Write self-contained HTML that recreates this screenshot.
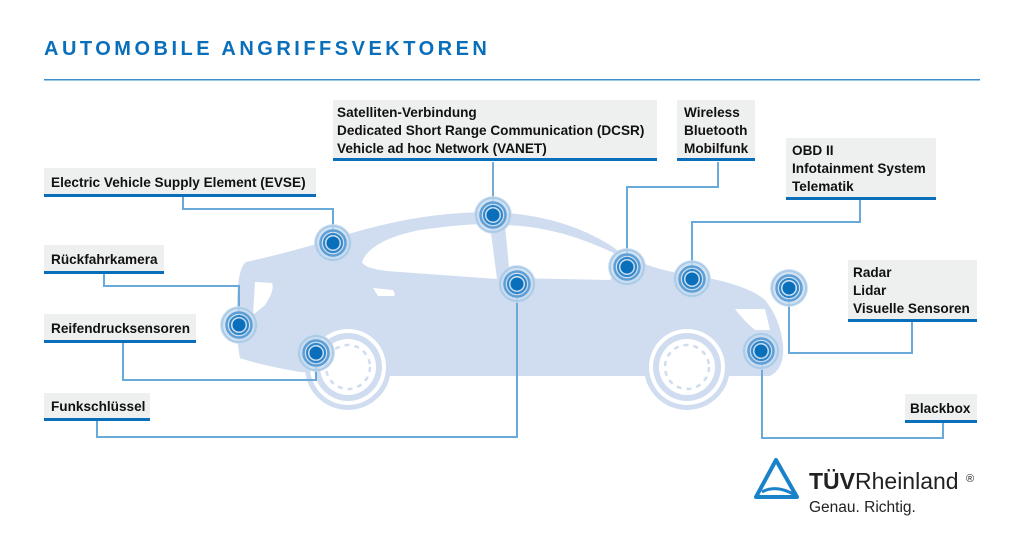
<!DOCTYPE html>
<html><head><meta charset="utf-8"><style>
html,body{margin:0;padding:0;background:#fff;}
svg{display:block;font-family:"Liberation Sans",Arial,sans-serif;}
.lb{font-weight:bold;font-size:13.6px;fill:#111;}
.box{fill:#eef0f0;}
.ul{fill:#0a6fba;}
.cn{fill:none;stroke:#6aaad8;stroke-width:2;}
.cn2{fill:none;stroke:#2a7fc0;stroke-width:1.3;}
</style></head><body>
<svg width="1024" height="555" viewBox="0 0 1024 555">
<defs>
<g id="t">
<circle r="19" fill="#c9dcef" opacity="0.8"/>
<circle r="17" fill="none" stroke="#a9cbe8" stroke-width="2"/>
<circle r="12.5" fill="none" stroke="#5d9fd6" stroke-width="2.5"/>
<circle r="9" fill="none" stroke="#2f86c8" stroke-width="2"/>
<circle r="6.5" fill="#0a6fba"/>
</g>
</defs>
<text x="44" y="55" font-size="20" font-weight="bold" fill="#0a6fba" letter-spacing="3.5">AUTOMOBILE ANGRIFFSVEKTOREN</text>
<rect x="44" y="79" width="936" height="1.5" fill="#3d8fcc"/>

<!-- car -->
<g fill="#d0ddf0">
<path d="M246 262 Q300 250 345 235 Q420 212 490 212 Q560 214 610 245 Q640 268 690 275 Q745 283 765 300 Q780 318 783 345 Q785 368 770 376 L600 376 L420 376 Q360 376 345 374 L300 372 Q260 365 240 358 Q236 340 237 300 Q238 268 246 262 Z"/>
<circle cx="348" cy="367" r="43"/>
<circle cx="687" cy="367" r="43"/>
</g>
<path d="M362 262 Q370 240 420 230 Q480 222 490 225 L497 279 L400 272 Q365 270 362 262 Z" fill="#fff"/>
<path d="M505 225 Q560 226 620 256 Q626 262 610 280 L510 278 Z" fill="#fff"/>
<path d="M255 282 L272 283 Q275 290 265 305 L253 315 Z" fill="#fff"/>
<path d="M373 288 L393 290 Q396 295 394 296 L378 296 Z" fill="#fff"/>
<path d="M735 309 L765 309 L770 330 L755 330 Q745 322 735 309 Z" fill="#fff"/>
<g fill="#fff">
<circle cx="348" cy="367" r="38"/><circle cx="687" cy="367" r="38"/>
</g>
<g fill="#d0ddf0">
<circle cx="348" cy="367" r="34"/><circle cx="687" cy="367" r="34"/>
</g>
<g fill="#fff"><circle cx="348" cy="367" r="28"/><circle cx="687" cy="367" r="28"/></g>
<g fill="none" stroke="#d0ddf0" stroke-width="2.5" stroke-dasharray="5 5"><circle cx="348" cy="367" r="22"/><circle cx="687" cy="367" r="22"/></g>

<!-- connectors -->
<polyline class="cn" points="183,197 183,209 333,209 333,236"/>
<polyline class="cn" points="104,274 104,286 239,286 239,318"/>
<polyline class="cn" points="123,343 123,380 316,380 316,355"/>
<polyline class="cn" points="97,421 97,437 517,437 517,285"/>
<polyline class="cn2" points="493,162 493,210"/>
<polyline class="cn" points="718,162 718,187 627,187 627,262"/>
<polyline class="cn" points="860,200 860,222 692,222 692,272"/>
<polyline class="cn" points="912,322 912,353 789,353 789,292"/>
<polyline class="cn" points="943,423 943,438 762,438 762,352"/>

<use href="#t" x="333" y="243"/>
<use href="#t" x="493" y="215"/>
<use href="#t" x="517" y="284"/>
<use href="#t" x="239" y="325"/>
<use href="#t" x="316" y="353"/>
<use href="#t" x="627" y="267"/>
<use href="#t" x="692" y="279"/>
<use href="#t" x="789" y="288"/>
<use href="#t" x="761" y="351"/>

<!-- labels -->
<rect class="box" x="44" y="168" width="272" height="27"/><rect class="ul" x="44" y="194" width="272" height="3"/>
<text class="lb" x="51" y="187">Electric Vehicle Supply Element (EVSE)</text>
<rect class="box" x="44" y="245" width="120" height="27"/><rect class="ul" x="44" y="271" width="120" height="3"/>
<text class="lb" x="51" y="264">Rückfahrkamera</text>
<rect class="box" x="44" y="314" width="152" height="27"/><rect class="ul" x="44" y="340" width="152" height="3"/>
<text class="lb" x="51" y="333">Reifendrucksensoren</text>
<rect class="box" x="44" y="393" width="106" height="26"/><rect class="ul" x="44" y="418" width="106" height="3"/>
<text class="lb" x="51" y="411">Funkschlüssel</text>

<rect class="box" x="333" y="100" width="324" height="59"/><rect class="ul" x="333" y="158" width="324" height="3"/>
<text class="lb" x="337" y="117">Satelliten-Verbindung</text>
<text class="lb" x="337" y="135">Dedicated Short Range Communication (DCSR)</text>
<text class="lb" x="337" y="153">Vehicle ad hoc Network (VANET)</text>

<rect class="box" x="677" y="100" width="78" height="59"/><rect class="ul" x="677" y="158" width="78" height="3"/>
<text class="lb" x="684" y="117">Wireless</text>
<text class="lb" x="684" y="135">Bluetooth</text>
<text class="lb" x="684" y="153">Mobilfunk</text>

<rect class="box" x="786" y="138" width="150" height="59"/><rect class="ul" x="786" y="197" width="150" height="3"/>
<text class="lb" x="792" y="155">OBD II</text>
<text class="lb" x="792" y="173">Infotainment System</text>
<text class="lb" x="792" y="191">Telematik</text>

<rect class="box" x="848" y="260" width="129" height="59"/><rect class="ul" x="848" y="319" width="129" height="3"/>
<text class="lb" x="853" y="277">Radar</text>
<text class="lb" x="853" y="295">Lidar</text>
<text class="lb" x="853" y="313">Visuelle Sensoren</text>

<rect class="box" x="905" y="394" width="72" height="26"/><rect class="ul" x="905" y="420" width="72" height="3"/>
<text class="lb" x="910" y="413">Blackbox</text>

<!-- logo -->
<path d="M776 460 L797 497 L756 497 Z" fill="none" stroke="#1a82c8" stroke-width="4" stroke-linejoin="round"/>
<path d="M762 492 Q776 484 795 495" fill="none" stroke="#1a82c8" stroke-width="3"/>
<text x="809" y="489" font-size="23" fill="#222"><tspan font-weight="bold">TÜV</tspan>Rheinland</text>
<text x="966" y="482" font-size="11" fill="#222">®</text>
<text x="809" y="512" font-size="15.5" fill="#222">Genau. Richtig.</text>
</svg>
</body></html>
